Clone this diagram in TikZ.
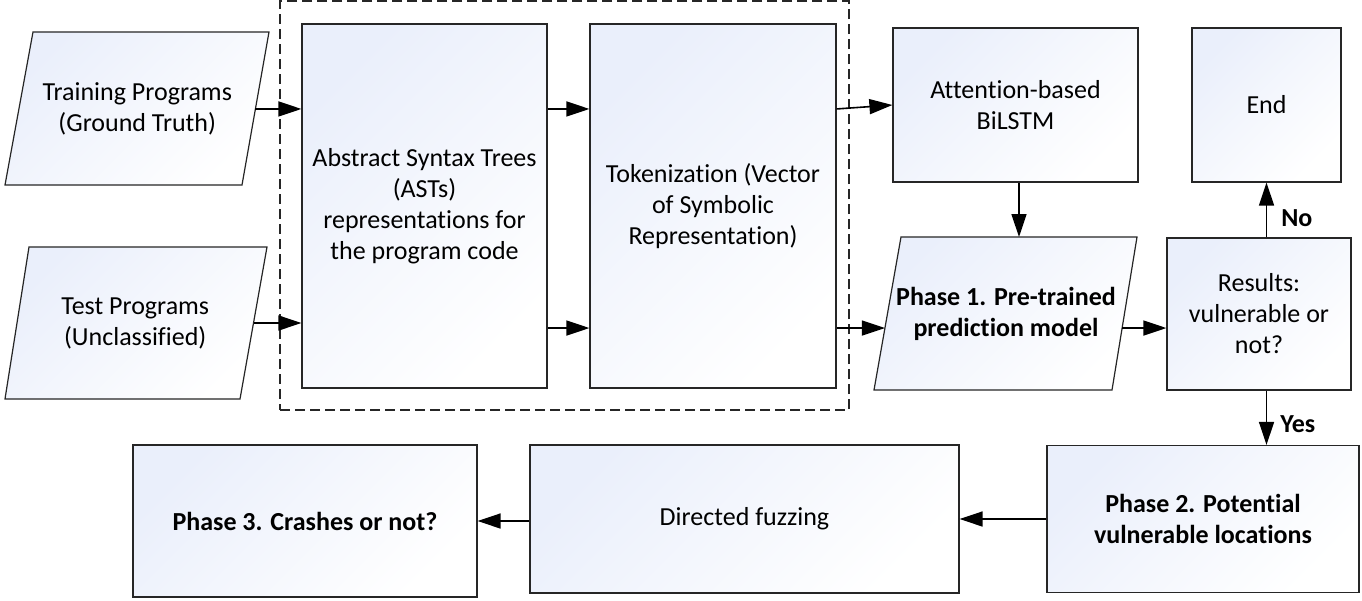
\documentclass[tikz,border=0pt]{standalone}
\usepackage{fontspec}
\setmainfont{Carlito}[Ligatures=NoCommon]
\usetikzlibrary{arrows.meta,calc}
\definecolor{bluetint}{RGB}{234,239,251}
\definecolor{edge}{RGB}{38,38,38}
\newcommand{\mainsz}{\fontsize{26}{31}\selectfont}
\tikzset{
  shade/.style={left color=bluetint, middle color=bluetint!30!white, right color=white, shading angle=45},
  box/.style={draw=edge, line width=1.2pt, shade, align=center, font=\mainsz, inner sep=0pt, rectangle},
  parashape/.style={draw=edge, line width=1.2pt, shade},
  ptext/.style={align=center, font=\mainsz, inner sep=0pt},
  arr/.style={draw=black, line width=1.6pt, -{Triangle[length=23pt,width=15pt]}},
  lab/.style={font=\mainsz\bfseries, inner sep=0pt, anchor=west},
  grp/.style={draw=edge, line width=1.2pt, dash pattern=on 10pt off 5pt, fill=none}
}
\begin{document}
\begin{tikzpicture}[x=1pt,y=-1pt]
\useasboundingbox[fill=white] (0,0) rectangle (1362,600);
% group frame
\node[grp, minimum width=569pt, minimum height=409pt, inner sep=0pt] (frame) at (564.5,205.5) {};
% parallelogram shapes
\path[parashape] (33,32) coordinate (trTL) -- (269,32) coordinate (trTR) -- (242,185) coordinate (trBR) -- (5,185) coordinate (trBL) -- cycle;
\path[parashape] (29,247) coordinate (teTL) -- (267,247) coordinate (teTR) -- (240,399) coordinate (teBR) -- (5,399) coordinate (teBL) -- cycle;
\path[parashape] (901,237) coordinate (p1TL) -- (1137,237) coordinate (p1TR) -- (1112,390) coordinate (p1BR) -- (874,390) coordinate (p1BL) -- cycle;
% nodes
\node[ptext] (tr) at (137.25,109) {Training Programs\\(Ground Truth)};
\node[ptext] (te) at (135.25,323) {Test Programs\\(Unclassified)};
\node[box, minimum width=245pt, minimum height=364pt] (ast) at (424.5,206) {Abstract Syntax Trees\\(ASTs)\\representations for\\the program code};
\node[box, minimum width=246pt, minimum height=364pt] (tok) at (713,206) {Tokenization (Vector\\of Symbolic\\Representation)};
\node[box, minimum width=245pt, minimum height=154pt] (att) at (1015.5,105) {Attention-based\\BiLSTM};
\node[box, minimum width=149pt, minimum height=154pt] (end) at (1266.5,105) {End};
\node[ptext, font=\mainsz\bfseries] (ph1) at (1006,313.5) {Phase 1. Pre-trained\\prediction model};
\node[box, minimum width=184pt, minimum height=152pt] (res) at (1259,314) {Results:\\vulnerable or\\not?};
\node[box, minimum width=312pt, minimum height=147pt, font=\mainsz\bfseries] (ph2) at (1203,519) {Phase 2. Potential\\vulnerable locations};
\node[box, minimum width=429pt, minimum height=148pt] (df) at (744.5,519) {Directed fuzzing};
\node[box, minimum width=344pt, minimum height=152pt, font=\mainsz\bfseries] (ph3) at (305,521) {Phase 3. Crashes or not?};
% helper points on slanted edges
\coordinate (trE) at ($(trBR)!0.497!(trTR)$);
\coordinate (teE) at ($(teBR)!0.5!(teTR)$);
\coordinate (p1N) at ($(p1TL)!0.5!(p1TR)$);
\coordinate (p1in) at ($(p1BL)!0.405!(p1TL)$);
\coordinate (p1out) at ($(p1BR)!0.405!(p1TR)$);
% connectors
\draw[arr] (trE) -- (trE -| ast.west);
\draw[arr] (teE) -- (teE -| ast.west);
\draw[arr] (ast.east |- trE) -- (tok.west |- trE);
\draw[arr] (ast.east |- p1in) -- (tok.west |- p1in);
\draw[arr] (tok.east |- trE) -- (att.west);
\draw[arr] (tok.east |- p1in) -- (p1in);
\draw[arr] (p1N |- att.south) -- (p1N);
\draw[arr] (p1out) -- (res.west |- p1out);
\draw[arr] (end.south |- res.north) -- node[lab, pos=0.36, right=14pt] {No} (end.south);
\draw[arr] (end.south |- res.south) -- node[lab, pos=0.62, right=13pt] {Yes} (end.south |- ph2.north);
\draw[arr] (ph2.west) -- (ph2.west -| df.east);
\draw[arr] (df.west |- ph3.east) -- (ph3.east);
\end{tikzpicture}
\end{document}
